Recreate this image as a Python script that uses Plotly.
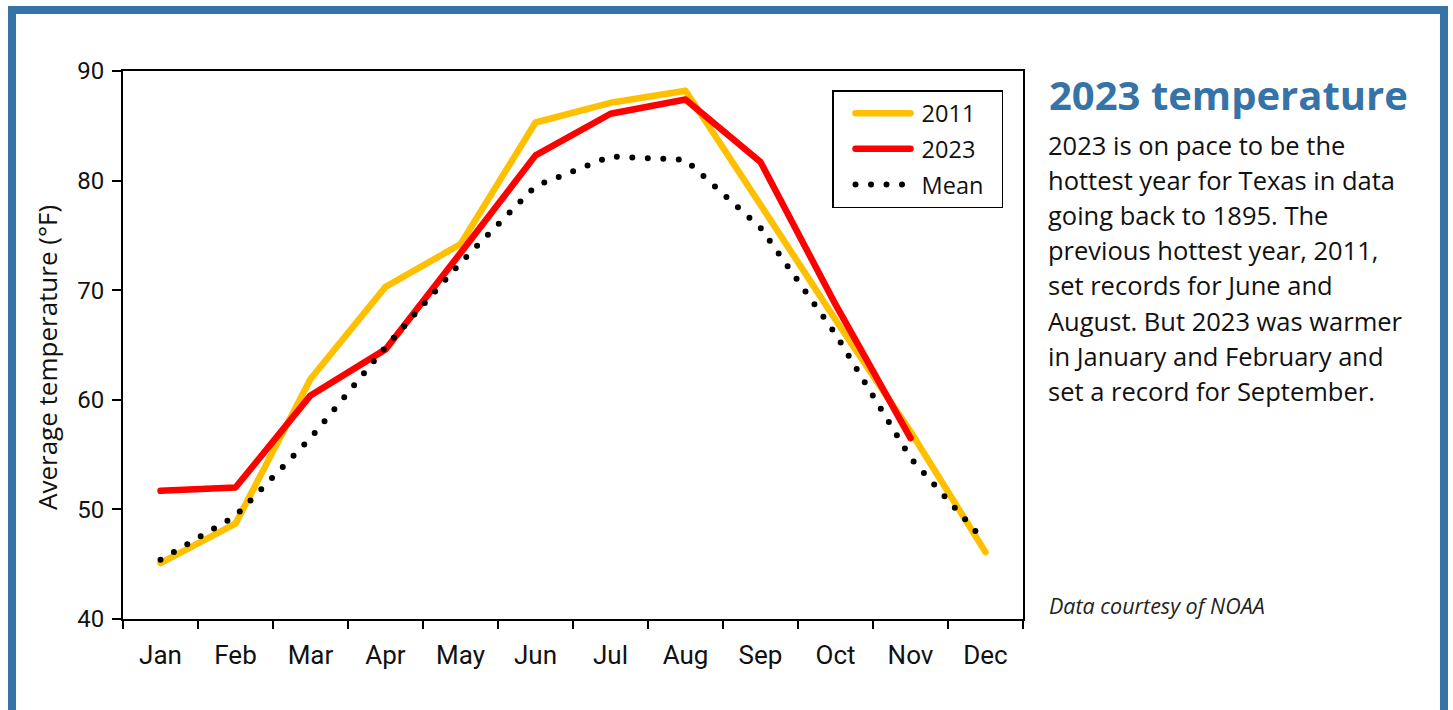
import plotly.graph_objects as go

# ---- data ----
months = ["Jan", "Feb", "Mar", "Apr", "May", "Jun", "Jul", "Aug", "Sep", "Oct", "Nov", "Dec"]
temp_2011 = [45.1, 48.7, 61.9, 70.3, 74.2, 85.3, 87.1, 88.2, 77.8, 67.3, 57.1, 46.1]
temp_2023 = [51.7, 52.0, 60.4, 64.6, 73.4, 82.3, 86.1, 87.4, 81.7, 68.7, 56.5, None]
temp_mean = [45.4, 49.4, 56.5, 64.8, 72.5, 79.5, 82.2, 81.9, 75.7, 66.0, 54.7, 47.0]
y_ticks = [40, 50, 60, 70, 80, 90]
series_names = ["2011", "2023", "Mean"]

title_text = "2023 temperature"
body_lines = [
    "2023 is on pace to be the",
    "hottest year for Texas in data",
    "going back to 1895. The",
    "previous hottest year, 2011,",
    "set records for June and",
    "August. But 2023 was warmer",
    "in January and February and",
    "set a record for September.",
]
source_text = "Data courtesy of NOAA"

# ---- layout geometry (pixels) ----
W, H = 1453, 710
L, R, T, B = 123, 1023, 71, 619
BLUE = "#3673A6"


def px(x):
    return (x - L) / (R - L)


def py(y):
    return (B - y) / (B - T)


def legend_label(s):
    return "\u00a0" + s + "\u00a0\u00a0"


fig = go.Figure()
fig.add_trace(go.Scatter(x=months, y=temp_2011, name=legend_label(series_names[0]), mode="lines",
                         line=dict(color="#FFC000", width=6.5), legendgroup="a"))
fig.add_trace(go.Scatter(x=months, y=temp_2023, name=legend_label(series_names[1]), mode="lines",
                         line=dict(color="#FF0000", width=6.5), legendgroup="b"))
fig.add_trace(go.Scatter(x=months, y=temp_mean, name=legend_label(series_names[2]), mode="lines",
                         line=dict(color="#000000", width=6, dash="6px,10px"), legendgroup="c"))

annotations = []
annotations.append(dict(text="<b>" + title_text + "</b>", x=px(1047), y=py(95), xref="paper", yref="paper",
                        xanchor="left", yanchor="middle", showarrow=False,
                        font=dict(family="Open Sans", size=40, color=BLUE)))
for i, line in enumerate(body_lines):
    annotations.append(dict(text=line, x=px(1046), y=py(145 + 35.1 * i), xref="paper", yref="paper",
                            xanchor="left", yanchor="middle", showarrow=False,
                            font=dict(family="Open Sans", size=25.5, color="#111111")))
annotations.append(dict(text="<i>" + source_text + "</i>", x=px(1047), y=py(605), xref="paper", yref="paper",
                        xanchor="left", yanchor="middle", showarrow=False,
                        font=dict(family="Open Sans", size=21.5, color="#222222")))
annotations.append(dict(text="Average temperature (°F)", x=px(47), y=py(358), xref="paper", yref="paper",
                        xanchor="center", yanchor="middle", textangle=-90, showarrow=False,
                        font=dict(family="Open Sans", size=26, color="#111111")))

fig.update_layout(
    width=W, height=H,
    margin=dict(l=L, r=W - R, t=T, b=H - B, pad=0),
    paper_bgcolor="white", plot_bgcolor="white",
    showlegend=True,
    legend=dict(x=px(832), y=py(90), xanchor="left", yanchor="top",
                bgcolor="white", bordercolor="black", borderwidth=1.5,
                font=dict(family="Open Sans", size=23.5, color="#111111"),
                itemwidth=55, indentation=17, traceorder="grouped", tracegroupgap=2),
    annotations=annotations,
    shapes=[dict(type="rect", xref="paper", yref="paper",
                 x0=px(12), x1=px(1444), y0=py(720), y1=py(10),
                 line=dict(color=BLUE, width=8), fillcolor="rgba(0,0,0,0)", layer="below")],
)
fig.update_xaxes(type="category", range=[-0.5, 11.5], tickson="boundaries", ticks="outside",
                 ticklen=8, tickwidth=1.5, tickcolor="black", showline=True, linecolor="black",
                 linewidth=2, mirror=True, showgrid=False, zeroline=False, ticklabelstandoff=12,
                 tickfont=dict(family="Roboto", size=26, color="#111111"))
fig.update_yaxes(range=[40, 90], tickvals=y_ticks, ticks="outside", ticklen=9, tickwidth=1.5,
                 tickcolor="black", showline=True, linecolor="black", linewidth=2, mirror=True,
                 showgrid=False, zeroline=False, ticklabelstandoff=3,
                 tickfont=dict(family="Roboto", size=24, color="#111111"))

post = """
document.body.style.margin = '0';
document.body.style.overflow = 'hidden';
var gd = document.getElementsByClassName('plotly-graph-div')[0];
function roundify(){
  document.querySelectorAll('path.js-line').forEach(function(p){
    p.style.strokeLinecap = 'round';
    p.style.strokeLinejoin = 'round';
    var da = p.style.strokeDasharray;
    if (da && da !== 'none' && da !== '') { p.style.strokeDasharray = '0px, 15.5px'; }
  });
}
roundify();
gd.on('plotly_afterplot', roundify);
"""
fig.write_html("out.html", post_script=post, config={"displayModeBar": False})
